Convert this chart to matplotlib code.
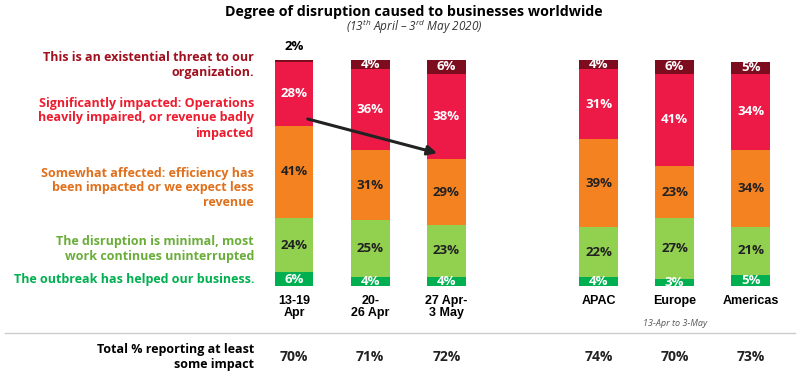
import matplotlib.pyplot as plt
import numpy as np

plt.rcParams['font.family'] = ['Open Sans', 'DejaVu Sans']
plt.rcParams['mathtext.fontset'] = 'custom'
plt.rcParams['mathtext.it'] = 'Open Sans:italic'
plt.rcParams['mathtext.rm'] = 'Open Sans:italic'

# data
groups = ['13-19\nApr', '20-\n26 Apr', '27 Apr-\n3 May', 'APAC', 'Europe', 'Americas']
xpos = [0, 1, 2, 4, 5, 6]
helped = [6, 4, 4, 4, 3, 5]
minimal = [24, 25, 23, 22, 27, 21]
somewhat = [41, 31, 29, 39, 23, 34]
significant = [28, 36, 38, 31, 41, 34]
existential = [2, 4, 6, 4, 6, 5]
totals = ['70%', '71%', '72%', '74%', '70%', '73%']

series = [helped, minimal, somewhat, significant, existential]
colors = ['#00B050', '#92D050', '#F58220', '#ED1A47', '#7D0C1F']
label_colors = ['white', '#222222', '#222222', 'white', 'white']

legend_texts = [
    'The outbreak has helped our business.',
    'The disruption is minimal, most\nwork continues uninterrupted',
    'Somewhat affected: efficiency has\nbeen impacted or we expect less\nrevenue',
    'Significantly impacted: Operations\nheavily impaired, or revenue badly\nimpacted',
    'This is an existential threat to our\norganization.',
]
legend_colors = ['#00B050', '#6AAE3A', '#E0701C', '#EE1C2E', '#A0101E']
legend_y = [280, 249, 188, 118, 65]  # pixel rows of text centres

fig = plt.figure(figsize=(8, 3.78), dpi=100)
ax = fig.add_axes([0.32, (378 - 286) / 378, 0.666, 226 / 378])

bottom = np.zeros(len(xpos))
for vals, col, lc in zip(series, colors, label_colors):
    vals = np.array(vals, dtype=float)
    ax.bar(xpos, vals, bottom=bottom, width=0.51, color=col, edgecolor='none')
    for x, b, v in zip(xpos, bottom, vals):
        if v <= 2:
            ax.text(x, b + v + 2, f'{int(v)}%', ha='center', va='bottom',
                    fontsize=9.5, fontweight='bold', color='black')
        else:
            ax.text(x, b + v / 2, f'{int(v)}%', ha='center', va='center',
                    fontsize=9.5, fontweight='bold', color=lc)
    bottom += vals

ax.set_xlim(-0.5, 6.5)
ax.set_ylim(0, 100)
ax.axis('off')

for x, g in zip(xpos, groups):
    ax.text(x, -4, g, ha='center', va='top', fontsize=9, fontweight='bold',
            family='Liberation Sans', linespacing=1.05)

ax.text(5, -16.5, '13-Apr to 3-May', ha='center', va='center', fontsize=6.5,
        style='italic', color='#555555')

# arrow across significant segments
ax.annotate('', xy=(1.88, 58.8), xytext=(0.18, 73.9),
            arrowprops=dict(arrowstyle='-|>', color='#222222', lw=2.2,
                            mutation_scale=14, shrinkA=0, shrinkB=0))

for t, c, yp in zip(legend_texts, legend_colors, legend_y):
    fig.text(254 / 800, 1 - yp / 378, t, ha='right', va='center', color=c,
             fontsize=9, fontweight='bold', linespacing=1.2)

fig.text(254 / 800, 1 - 357 / 378, 'Total % reporting at least\nsome impact',
         ha='right', va='center', fontsize=9, fontweight='bold',
         linespacing=1.2)
for x, t in zip(xpos, totals):
    ax.text(x, -31.5, t, ha='center', va='center', fontsize=10,
            fontweight='bold', color='#222222')

fig.add_artist(plt.Line2D([5 / 800, 795 / 800], [1 - 333 / 378] * 2,
                          color='#CCCCCC', lw=1))

fig.text(414 / 800, 1 - 12 / 378,
         'Degree of disruption caused to businesses worldwide',
         ha='center', va='center', fontsize=10.3, fontweight='bold')
fig.text(414 / 800, 1 - 27 / 378,
         r'(13$^{th}$ April – 3$^{rd}$ May 2020)',
         ha='center', va='center', fontsize=8.5, style='italic', color='#333333')

fig.savefig('out.png', dpi=100)
